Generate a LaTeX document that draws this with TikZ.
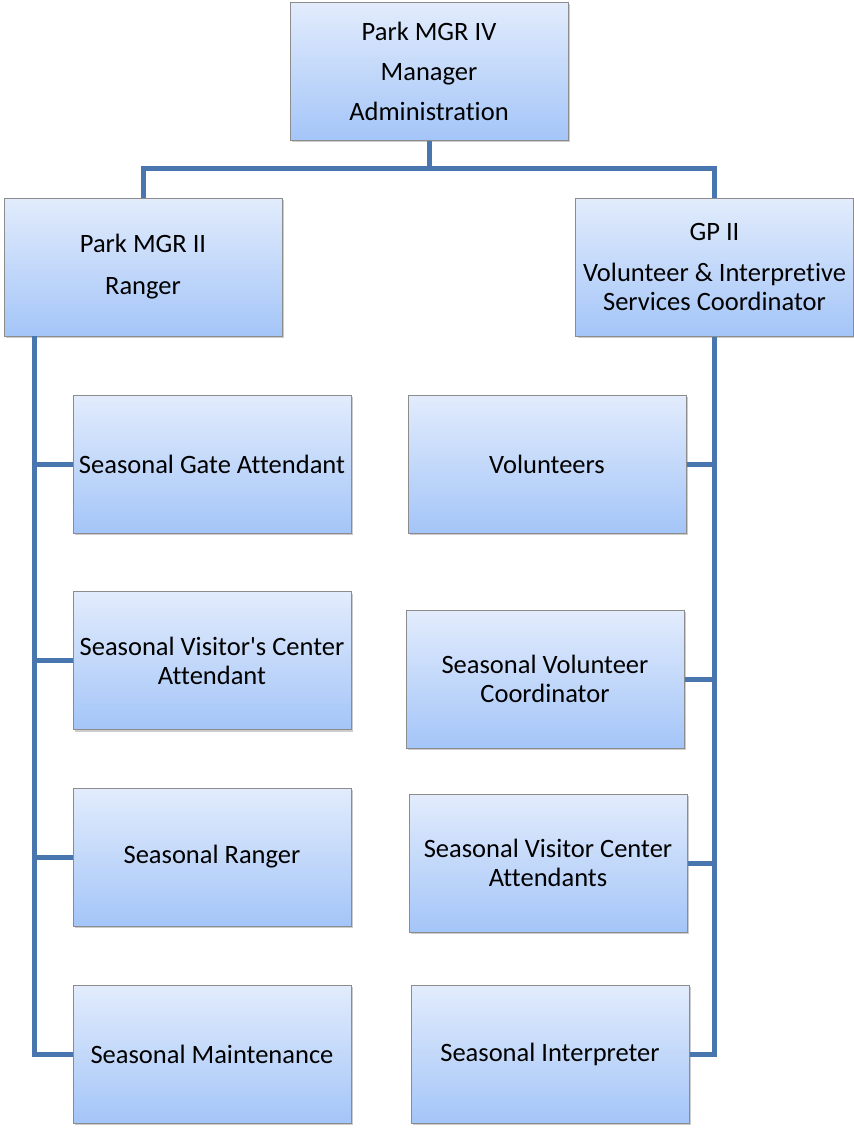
\documentclass[tikz,border=0pt]{standalone}
\usepackage{fontspec}
\setmainfont{Carlito}[Ligatures={NoCommon}]
\usepackage{tikz}
\usetikzlibrary{shadows}
\usepackage{xcolor}
\definecolor{boxtop}{RGB}{226,236,252}
\definecolor{boxbot}{RGB}{164,197,248}
\definecolor{boxline}{RGB}{140,140,140}
\definecolor{linkblue}{RGB}{74,118,176}
\tikzset{
  post/.style={rectangle, draw=boxline, line width=1pt, top color=boxtop, bottom color=boxbot,
    minimum width=278pt, minimum height=138pt, inner sep=0pt, align=center,
    font=\fontsize{26.5}{29}\selectfont,
    drop shadow={shadow xshift=2pt, shadow yshift=-2pt, opacity=.4}},
  link/.style={draw=linkblue, line width=5pt}
}
\begin{document}
\begin{tikzpicture}[x=1pt,y=-1pt]
\useasboundingbox (0,0) rectangle (854,1128);
\node[post] (mgr) at (429,71) {Park MGR IV\\[11pt]Manager\\[11pt]Administration};
\node[post] (ranger) at (143,267) {Park MGR II\\[13pt]Ranger};
\node[post] (gp) at (714.5,267) {GP II\\[12pt]Volunteer \& Interpretive\\Services Coordinator};
\node[post] (gate) at (212,464) {Seasonal Gate Attendant};
\node[post] (center) at (212,660.5) {Seasonal Visitor\textquotesingle s Center\\Attendant};
\node[post] (sranger) at (212,857) {Seasonal Ranger};
\node[post] (maint) at (212,1054) {Seasonal Maintenance};
\node[post] (vol) at (547,464) {Volunteers};
\node[post] (vcoord) at (545,679) {Seasonal Volunteer\\Coordinator};
\node[post] (vcenter) at (548,863) {Seasonal Visitor Center\\Attendants};
\node[post] (interp) at (550,1054) {Seasonal Interpreter};
\coordinate (bus) at (429,168);
\coordinate (lspine) at (34,336);
\draw[link] (mgr.south) -- (bus);
\draw[link] (ranger.north) |- (bus) -| (gp.north);
\draw[link] (lspine) |- (maint.west);
\draw[link] (gate.west) -- (gate.west -| lspine);
\draw[link] (center.west) -- (center.west -| lspine);
\draw[link] (sranger.west) -- (sranger.west -| lspine);
\draw[link] (gp.south) |- (interp.east);
\draw[link] (vol.east) -- (vol.east -| gp.south);
\draw[link] (vcoord.east) -- (vcoord.east -| gp.south);
\draw[link] (vcenter.east) -- (vcenter.east -| gp.south);
\end{tikzpicture}
\end{document}
